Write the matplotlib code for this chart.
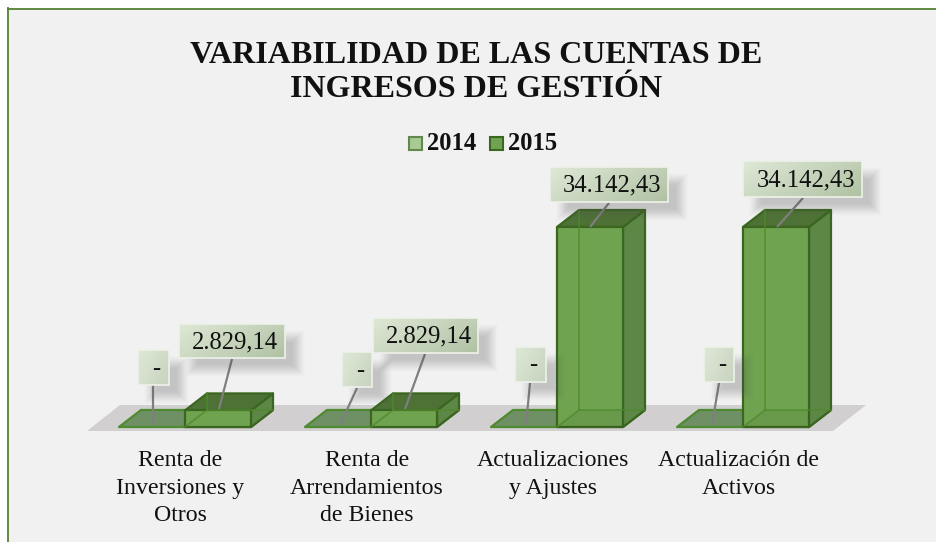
import numpy as np
from matplotlib import pyplot as plt
from matplotlib.patches import Polygon, Rectangle

plt.rcParams['font.family'] = ['Liberation Serif', 'DejaVu Serif']

# data
categories = ["Renta de\nInversiones y\nOtros", "Renta de\nArrendamientos\nde Bienes",
              "Actualizaciones\ny Ajustes", "Actualización de\nActivos"]
series_names = ["2014", "2015"]
values_2014 = [0, 0, 0, 0]
values_2015 = [2829.14, 2829.14, 34142.43, 34142.43]
title = "VARIABILIDAD DE LAS CUENTAS DE\nINGRESOS DE GESTIÓN"

# layout in pixels
W, H = 936, 542
y0_px = 427          # baseline of the bars
first_px = 185       # centre of first group
step_px = 186
px_per_val = 200 / 34142.43
bar_w = 66 / step_px
dx = 22 / step_px
dy = 17 / px_per_val
cat_x = [180, 367, 553, 739]
# label boxes x0,y0,x1,y1 and leader end (x,y) at the box, (x,y) at the bar
boxes_2014 = [(138, 350, 169, 385), (342, 352, 372, 387), (515, 347, 546, 382), (704, 347, 734, 382)]
leaders_2014 = [(153, 385, 153, 425), (357, 388, 340, 425), (530, 383, 526, 425), (719, 383, 712, 425)]
boxes_2015 = [(179, 324, 285, 358), (373, 318, 478, 353), (550, 167, 668, 202), (743, 161, 862, 197)]
leaders_2015 = [(232, 359, 219, 409), (425, 354, 405, 409), (609, 203, 590, 227), (803, 198, 777, 227)]


def val_label(v):
    if v == 0:
        return "-"
    s = f"{v:,.2f}"
    return s.replace(",", "#").replace(".", ",").replace("#", ".")


def draw_bar(ax, x0, h, front, top, side, edge):
    x1 = x0 + bar_w
    ec = dict(edgecolor=edge, linewidth=1.6, joinstyle='round')
    # bottom
    ax.add_patch(Polygon([(x0, 0), (x1, 0), (x1 + dx, dy), (x0 + dx, dy)], facecolor=top, **ec))
    if h > 0:
        ax.add_patch(Polygon([(x1, 0), (x1 + dx, dy), (x1 + dx, h + dy), (x1, h)], facecolor=side, **ec))
        ax.add_patch(Polygon([(x0, h), (x1, h), (x1 + dx, h + dy), (x0 + dx, h + dy)], facecolor=top, **ec))
        ax.add_patch(Polygon([(x0, 0), (x1, 0), (x1, h), (x0, h)], facecolor=front, **ec))
        # bottom and hidden edges seen through the front
        if h > dy:
            ax.add_patch(Polygon([(x0, 0), (x1, 0), (x1, dy), (x0 + dx, dy)], facecolor='black', alpha=0.06, edgecolor='none'))
        hid = dict(color='#4f8a2c', linewidth=1.2, alpha=0.8)
        ax.plot([x0 + dx, x0 + dx], [dy, h + dy], **hid)
        ax.plot([x0, x0 + dx], [0, dy], **hid)
        ax.plot([x0 + dx, x1 + dx], [dy, dy], **hid)


def label_box(ax, box, text):
    x0, y0, x1, y1 = box
    # soft shadow, only to the lower right of the box
    fade = 16
    sx0, sy0, sx1, sy1 = x0 + 4, y0 + 4, x1 + 22, y1 + 21
    w, h = sx1 - sx0, sy1 - sy0
    yy, xx = np.mgrid[0:h, 0:w]
    d = np.minimum(np.minimum(xx, w - 1 - xx), np.minimum(yy, h - 1 - yy))
    t = np.clip(d / fade, 0, 1)
    img = np.zeros((h, w, 4))
    img[..., :3] = 0.3
    img[..., 3] = t * t * (3 - 2 * t) * 0.28
    ax.imshow(img, extent=(sx0, sx1, sy1, sy0), aspect='auto', zorder=3)
    # gradient fill
    g = np.linspace(0, 1, 40)
    t = (g[None, :] * 0.65 + g[:, None] * 0.35)
    c0, c1 = np.array([0.87, 0.91, 0.84]), np.array([0.69, 0.76, 0.64])
    if text == "-":
        c1 = np.array([0.78, 0.83, 0.75])
    grad = c0 + (c1 - c0) * t[..., None]
    ax.imshow(grad, extent=(x0, x1, y1, y0), aspect='auto', zorder=4)
    ax.add_patch(Rectangle((x0, y0), x1 - x0, y1 - y0, fill=False, edgecolor='#eef2ea', linewidth=1.2, zorder=5))
    ax.text((x0 + x1) / 2 + 3, (y0 + y1) / 2 + 1, text, ha='center', va='center', fontsize=17.7, color='#111111', zorder=6)


fig = plt.figure(figsize=(W / 100, H / 100), dpi=100, facecolor='#f1f1f1')
ax = fig.add_axes([0, 0, 1, 1], facecolor='none')
ax.set_xlim(-first_px / step_px, (W - first_px) / step_px)
ax.set_ylim(-(H - y0_px) / px_per_val, y0_px / px_per_val)
ax.axis('off')

# floor
fx0, fx1 = -98 / step_px, 648 / step_px
floor_y0, floor_y1 = -4 / px_per_val, 22 / px_per_val
floor_d = 33 / step_px
ax.add_patch(Polygon([(fx0, floor_y0), (fx1, floor_y0), (fx1 + floor_d, floor_y1), (fx0 + floor_d, floor_y1)],
                     facecolor='#d1cfcf', edgecolor='none'))

for i in range(len(categories)):
    draw_bar(ax, i - bar_w, values_2014[i], '#a9c995', '#6f8f64', '#8aa878', '#4e8a30')
    draw_bar(ax, i, values_2015[i], '#70a350', '#4e7236', '#5d8746', '#3a6620')

# everything in pixel coordinates on top
top = fig.add_axes([0, 0, 1, 1], facecolor='none')
top.set_xlim(0, W)
top.set_ylim(H, 0)
top.axis('off')

for (x0, y0, x1, y1) in leaders_2014 + leaders_2015:
    top.plot([x0, x1], [y0, y1], color='#7f7f7f', linewidth=1.6, zorder=2, solid_capstyle='butt')
for i in range(len(categories)):
    label_box(top, boxes_2014[i], val_label(values_2014[i]))
    label_box(top, boxes_2015[i], val_label(values_2015[i]))
    top.text(cat_x[i], 450, categories[i], ha='center', va='top', fontsize=17.2, linespacing=1.41, color='#111111')

top.text(476, 72.5, title, ha='center', va='center', fontsize=23, fontweight='bold', linespacing=1.27, color='#111111')

# legend
for x, name, fc, ec in [(409, series_names[0], '#a9c995', '#5f8a48'), (490, series_names[1], '#70a350', '#3a6620')]:
    top.add_patch(Rectangle((x, 137), 13, 13, facecolor=fc, edgecolor=ec, linewidth=1.5))
    top.text(x + 18, 143, name, ha='left', va='center', fontsize=17.7, fontweight='bold', color='#111111')

# outer frame, white strip outside it
top.add_patch(Rectangle((0, 0), W, 8, facecolor='white', edgecolor='none', zorder=10))
top.add_patch(Rectangle((0, 0), 7, H, facecolor='white', edgecolor='none', zorder=10))
top.plot([8, W], [8.5, 8.5], color='#548235', linewidth=1.3, zorder=11)
top.plot([8, 8], [8, H], color='#548235', linewidth=1.3, zorder=11)
top.set_xlim(0, W)
top.set_ylim(H, 0)

fig.savefig('out.png', dpi=100)
